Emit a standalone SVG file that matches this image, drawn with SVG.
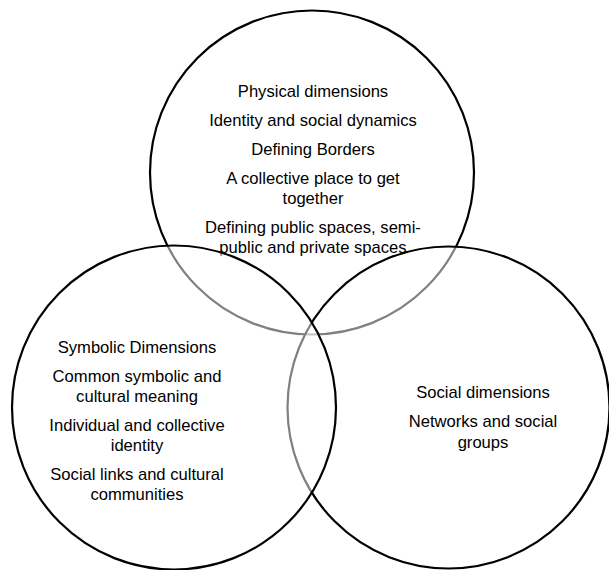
<svg xmlns="http://www.w3.org/2000/svg" width="609" height="570" viewBox="0 0 609 570">
<style>
.ring{fill:#ffffff;fill-opacity:0.5;stroke:#000000;stroke-width:2.2}
.lbl{font-family:"Liberation Sans",Arial,sans-serif;font-size:16.6px;fill:#000000;text-anchor:middle}
</style>
<rect x="0" y="0" width="609" height="570" fill="#ffffff"/>
<g id="physical">
<circle class="ring" cx="312" cy="172.5" r="162"/>
<text class="lbl" x="313" y="97">Physical dimensions</text>
<text class="lbl" x="313" y="126">Identity and social dynamics</text>
<text class="lbl" x="313" y="155">Defining Borders</text>
<text class="lbl" x="313" y="184">A collective place to get</text>
<text class="lbl" x="313" y="203.5">together</text>
<text class="lbl" x="313" y="233">Defining public spaces, semi-</text>
<text class="lbl" x="313" y="252.5">public and private spaces</text>
</g>
<g id="social">
<circle class="ring" cx="448.5" cy="407.5" r="161"/>
<text class="lbl" x="483" y="398">Social dimensions</text>
<text class="lbl" x="483" y="427">Networks and social</text>
<text class="lbl" x="483" y="447.5">groups</text>
</g>
<g id="symbolic">
<circle class="ring" cx="174" cy="407.5" r="162"/>
<text class="lbl" x="137" y="353">Symbolic Dimensions</text>
<text class="lbl" x="137" y="382">Common symbolic and</text>
<text class="lbl" x="137" y="402">cultural meaning</text>
<text class="lbl" x="137" y="431">Individual and collective</text>
<text class="lbl" x="137" y="451">identity</text>
<text class="lbl" x="137" y="479.5">Social links and cultural</text>
<text class="lbl" x="137" y="500">communities</text>
</g>
<g id="connectors"></g>
</svg>
